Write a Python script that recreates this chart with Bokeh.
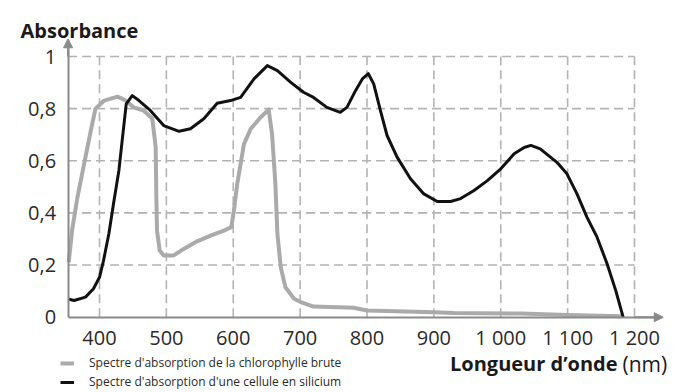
from bokeh.plotting import figure
from bokeh.models import (ColumnDataSource, FixedTicker, Arrow, NormalHead, Label,
                          Legend, LegendItem, Range1d)
from bokeh.embed import file_html
from bokeh.resources import INLINE

# ---------------- data ----------------
x_ticks = [400, 500, 600, 700, 800, 900, 1000, 1100, 1200]
x_tick_labels = ["400", "500", "600", "700", "800", "900", "1 000", "1 100", "1 200"]
y_ticks = [0, 0.2, 0.4, 0.6, 0.8, 1]
y_tick_labels = ["0", "0,2", "0,4", "0,6", "0,8", "1"]

silicon_nm = [353, 362, 379, 391, 400, 406, 414, 421, 429, 435, 440, 449, 459, 476,
              496, 519, 536, 556, 576, 596, 611, 631, 651, 666, 686, 705, 720, 740,
              760, 770, 783, 793, 802, 810, 820, 830, 845, 865, 885, 905, 925, 940,
              960, 980, 1000, 1020, 1035, 1045, 1059, 1084, 1099, 1114, 1129, 1144,
              1159, 1172, 1183]
silicon_abs = [0.070, 0.064, 0.077, 0.109, 0.153, 0.217, 0.320, 0.436, 0.563, 0.703,
               0.818, 0.850, 0.831, 0.793, 0.735, 0.713, 0.723, 0.761, 0.821, 0.831,
               0.843, 0.914, 0.965, 0.946, 0.901, 0.863, 0.843, 0.805, 0.786, 0.805,
               0.870, 0.914, 0.934, 0.895, 0.793, 0.697, 0.614, 0.531, 0.473, 0.444,
               0.444, 0.455, 0.486, 0.524, 0.569, 0.627, 0.651, 0.659, 0.646, 0.594,
               0.550, 0.473, 0.383, 0.307, 0.205, 0.102, 0.0]

chl_nm = [354, 359, 367, 377, 387, 394, 407, 427, 439, 451, 466, 479, 484, 485, 486,
          490, 496, 511, 526, 546, 566, 586, 597, 601, 606, 611, 616, 626, 641, 653,
          658, 663, 666, 671, 678, 691, 701, 720, 780, 800, 900, 930, 1030, 1100, 1180]
chl_abs = [0.211, 0.333, 0.460, 0.588, 0.716, 0.800, 0.831, 0.846, 0.831, 0.805,
           0.793, 0.761, 0.652, 0.460, 0.333, 0.256, 0.237, 0.237, 0.262, 0.291,
           0.313, 0.332, 0.345, 0.409, 0.512, 0.588, 0.664, 0.722, 0.767, 0.796,
           0.703, 0.511, 0.320, 0.192, 0.115, 0.071, 0.058, 0.041, 0.036, 0.026,
           0.019, 0.016, 0.014, 0.008, 0.004]

legend_labels = ["Spectre d'absorption de la chlorophylle brute",
                 "Spectre d'absorption d'une cellule en silicium"]
y_title = "Absorbance"
x_title_bold = "Longueur d\u2019onde"
x_title_unit = "(nm)"

# ---------------- figure ----------------
X_AXIS_AT = 353
p = figure(width=676, height=392, output_backend="svg", toolbar_location=None,
           x_range=Range1d(251.96, 1262.8), y_range=Range1d(-0.2888, 1.2148),
           min_border=0, min_border_left=0, min_border_right=0,
           min_border_top=0, min_border_bottom=0)
p.outline_line_color = None
p.background_fill_color = "white"
p.border_fill_color = "white"
p.xgrid.visible = False
p.ygrid.visible = False

GRID = "#b3b3b3"
AXIS = "#8a8a8a"
TXT = "#2a2a2a"
FONT = "Open Sans"

# dashed grid, bounded like the reference
vx = list(x_ticks)
p.segment(x0=vx, y0=[0] * len(vx), x1=vx, y1=[y_ticks[-1]] * len(vx),
          line_color=GRID, line_width=1.6, line_dash="9 5")
hy = [t for t in y_ticks if t > 0]
p.segment(x0=[X_AXIS_AT] * len(hy), y0=hy, x1=[x_ticks[-1]] * len(hy), y1=hy,
          line_color=GRID, line_width=1.6, line_dash="9 5")

# curves
src_chl = ColumnDataSource(dict(x=chl_nm, y=chl_abs))
src_si = ColumnDataSource(dict(x=silicon_nm, y=silicon_abs))
r_chl = p.line("x", "y", source=src_chl, line_color="#aaaaaa", line_width=4,
               line_join="round")
r_si = p.line("x", "y", source=src_si, line_color="#111111", line_width=3,
              line_join="round")

# axes at fixed locations
p.xaxis.fixed_location = 0
p.yaxis.fixed_location = X_AXIS_AT
p.xaxis.bounds = (X_AXIS_AT, 1240)
p.yaxis.bounds = (0, 1.06)
p.xaxis.ticker = FixedTicker(ticks=x_ticks)
p.yaxis.ticker = FixedTicker(ticks=y_ticks)
p.xaxis.major_label_overrides = {t: l for t, l in zip(x_ticks, x_tick_labels)}
p.yaxis.major_label_overrides = {t: l for t, l in zip(y_ticks, y_tick_labels)}
for ax in (p.xaxis, p.yaxis):
    ax.axis_line_color = AXIS
    ax.axis_line_width = 2
    ax.major_tick_line_color = None
    ax.minor_tick_line_color = None
    ax.major_tick_out = 0
    ax.major_tick_in = 0
    ax.major_label_text_font = FONT
    ax.major_label_text_font_size = "20px"
    ax.major_label_text_color = TXT
p.xaxis.major_label_standoff = 7
p.yaxis.major_label_standoff = 12

# arrow heads
p.add_layout(Arrow(end=NormalHead(size=9, fill_color=AXIS, line_color=AXIS, line_width=1),
                   x_start=X_AXIS_AT, y_start=1.0, x_end=X_AXIS_AT, y_end=1.068,
                   line_color=AXIS, line_width=2))
p.add_layout(Arrow(end=NormalHead(size=9, fill_color=AXIS, line_color=AXIS, line_width=1),
                   x_start=1200, y_start=0, x_end=1243, y_end=0,
                   line_color=AXIS, line_width=2))

# titles
p.add_layout(Label(x=281.9, y=1.0997, text=y_title, text_font=FONT,
                   text_font_size="20px", text_font_style="bold", text_color="#1a1a1a",
                   text_baseline="alphabetic", text_align="left"))
p.add_layout(Label(x=1174.6, y=-0.1788, text=x_title_bold, text_font=FONT,
                   text_font_size="20px", text_font_style="bold", text_color="#1a1a1a",
                   text_baseline="alphabetic", text_align="right"))
p.add_layout(Label(x=1182.0, y=-0.1788, text=x_title_unit, text_font=FONT,
                   text_font_size="21px", text_color="#1a1a1a",
                   text_baseline="alphabetic", text_align="left"))

# legend
legend = Legend(items=[LegendItem(label=legend_labels[0], renderers=[r_chl]),
                       LegendItem(label=legend_labels[1], renderers=[r_si])],
                location=(60, 2), orientation="vertical",
                padding=0, margin=0, spacing=2,
                glyph_width=14, glyph_height=16, label_height=16,
                label_standoff=15, border_line_color=None,
                background_fill_alpha=0,
                label_text_font=FONT, label_text_font_size="12px",
                label_text_color=TXT)
p.add_layout(legend)

open("out.html", "w").write(file_html(p, INLINE))
